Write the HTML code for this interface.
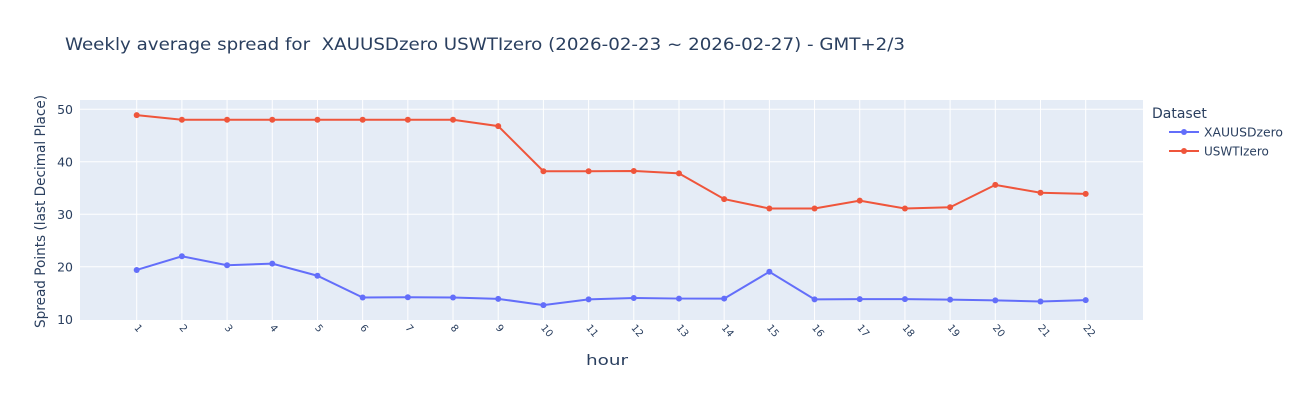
<!DOCTYPE html>
<html><head><meta charset="utf-8"><style>
body{margin:0;background:#fff;}
svg{display:block;font-family:"DejaVu Sans","Liberation Sans",sans-serif;}
</style></head><body>
<svg id="s" width="1300" height="400" xmlns="http://www.w3.org/2000/svg">
<rect x="80" y="100" width="1063" height="220" fill="#e5ecf6"/>
<g id="grid"></g>
<g id="lines"></g>
<text x="65" y="50" font-size="17" fill="#2a3f5f" textLength="840" lengthAdjust="spacingAndGlyphs" xml:space="preserve">Weekly average spread for  XAUUSDzero USWTIzero (2026-02-23 ~ 2026-02-27) - GMT+2/3</text>
<text x="586" y="365" font-size="14" fill="#2a3f5f" textLength="42" lengthAdjust="spacingAndGlyphs">hour</text>
<text transform="translate(45,328) rotate(-90)" font-size="14" fill="#2a3f5f" textLength="233" lengthAdjust="spacingAndGlyphs">Spread Points (last Decimal Place)</text>
<text x="1152" y="118" font-size="14" fill="#2a3f5f">Dataset</text>
<line x1="1169" y1="132" x2="1199" y2="132" stroke="#636efa" stroke-width="2"/><circle cx="1184" cy="132" r="3" fill="#636efa"/>
<text x="1204" y="136.5" font-size="12" fill="#2a3f5f" textLength="79" lengthAdjust="spacingAndGlyphs">XAUUSDzero</text>
<line x1="1169" y1="151" x2="1199" y2="151" stroke="#ef553b" stroke-width="2"/><circle cx="1184" cy="151" r="3" fill="#ef553b"/>
<text x="1204" y="155.5" font-size="12" fill="#2a3f5f">USWTIzero</text>
</svg>
<script>
var ns="http://www.w3.org/2000/svg";
function el(p,t,a,txt){var e=document.createElementNS(ns,t);for(var k in a)e.setAttribute(k,a[k]);if(txt!=null)e.textContent=txt;p.appendChild(e);return e;}
var g=document.getElementById('grid'),L=document.getElementById('lines'),s=document.getElementById('s');
function X(i){return 136.7+(i-1)*45.19;}
function Y(v){return 319.3-(v-10)*5.25;}
for(var v=10;v<=50;v+=10){if(v>10)el(g,'line',{x1:80,x2:1143,y1:Y(v),y2:Y(v),stroke:'#fff','stroke-width':1});
el(s,'text',{x:73,y:Y(v)+4.5,'font-size':12.5,fill:'#2a3f5f','text-anchor':'end'},String(v));}
for(var i=1;i<=22;i++){el(g,'line',{x1:X(i),x2:X(i),y1:100,y2:320,stroke:'#fff','stroke-width':1});
el(s,'text',{transform:'translate('+(X(i)-3)+',328) rotate(50)','font-size':10,fill:'#2a3f5f'},String(i));}
var a=[19.4,22.0,20.3,20.6,18.3,14.15,14.2,14.15,13.9,12.7,13.8,14.05,13.95,13.95,19.05,13.8,13.85,13.85,13.75,13.6,13.4,13.65];
var b=[48.9,48,48,48,48,48,48,48,46.8,38.2,38.2,38.25,37.8,32.9,31.1,31.1,32.6,31.1,31.35,35.6,34.1,33.9];
[[a,'#636efa'],[b,'#ef553b']].forEach(function(d){var p=d[0].map(function(v,i){return X(i+1)+','+Y(v)}).join(' ');
el(L,'polyline',{points:p,fill:'none',stroke:d[1],'stroke-width':2});
d[0].forEach(function(v,i){el(L,'circle',{cx:X(i+1),cy:Y(v),r:3,fill:d[1]});});});
</script>
</body></html>
